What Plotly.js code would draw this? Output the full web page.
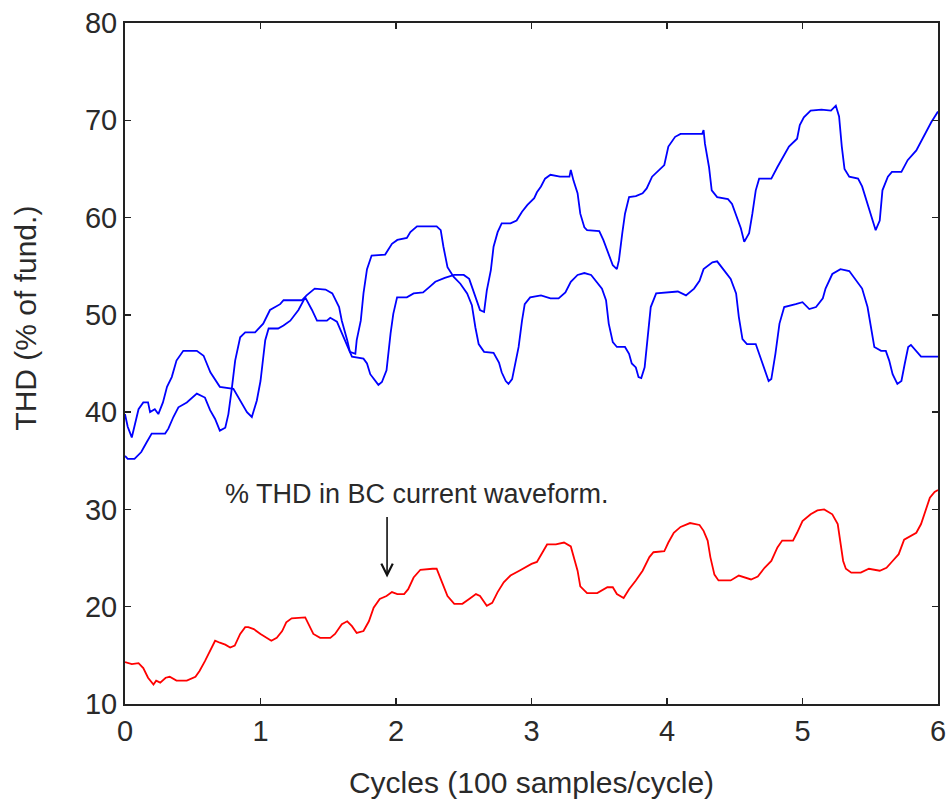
<!DOCTYPE html>
<html>
<head>
<meta charset="utf-8">
<script src="https://cdn.plot.ly/plotly-3.0.1.min.js"></script>
<style>html,body{margin:0;padding:0;background:#fff;}#chart{width:949px;height:806px;}</style>
</head>
<body>
<div id="chart"></div>
<script>
// Upper blue curve (ends near 71 %)
const curveA_x = [
  0, 0.02, 0.05, 0.08, 0.10, 0.135, 0.17, 0.185, 0.22, 0.246,
  0.28, 0.31, 0.345, 0.38, 0.43, 0.53, 0.58, 0.63, 0.70, 0.80,
  0.85, 0.90, 0.936, 0.973, 1.0, 1.035, 1.06, 1.13, 1.17, 1.22,
  1.28, 1.33, 1.38, 1.417, 1.49, 1.515, 1.564, 1.60, 1.64, 1.675,
  1.76, 1.786, 1.81, 1.85, 1.87, 1.896, 1.93, 1.96, 1.98, 2.008,
  2.08, 2.13, 2.20, 2.25, 2.29, 2.36, 2.43, 2.50, 2.54, 2.56,
  2.586, 2.62, 2.65, 2.67, 2.70, 2.72, 2.75, 2.78, 2.845, 2.89,
  2.93, 2.97, 3.02, 3.04, 3.07, 3.10, 3.14, 3.21, 3.28, 3.29,
  3.31, 3.34, 3.36, 3.39, 3.41, 3.50, 3.53, 3.56, 3.60, 3.63,
  3.645, 3.67, 3.69, 3.72, 3.77, 3.82, 3.85, 3.89, 3.93, 3.98,
  4.01, 4.06, 4.10, 4.26, 4.27, 4.28, 4.31, 4.33, 4.37, 4.45,
  4.48, 4.51, 4.545, 4.57, 4.606, 4.63, 4.655, 4.68, 4.77, 4.815,
  4.865, 4.90, 4.96, 4.98, 5.01, 5.06, 5.14, 5.21, 5.246, 5.27,
  5.29, 5.31, 5.345, 5.41, 5.44, 5.48, 5.52, 5.54, 5.57, 5.59,
  5.63, 5.66, 5.73, 5.776, 5.84, 5.90, 5.95, 6.0
];
const curveA_y = [
  39.8, 38.5, 37.4, 39.0, 40.3, 41.0, 41.0, 40.0, 40.3, 39.8,
  41.0, 42.6, 43.6, 45.3, 46.3, 46.3, 45.8, 44.1, 42.6, 42.4,
  41.2, 40.0, 39.5, 41.2, 43.2, 47.4, 48.6, 48.6, 48.9, 49.4,
  50.5, 51.8, 50.5, 49.4, 49.4, 49.7, 49.3, 48.1, 46.7, 45.7,
  45.5, 45.0, 43.9, 43.1, 42.8, 43.1, 44.3, 48.1, 50.1, 51.8,
  51.8, 52.2, 52.3, 52.9, 53.4, 53.8, 54.1, 54.1, 53.7, 52.9,
  51.8, 50.5, 50.3, 52.5, 54.6, 57.0, 58.5, 59.4, 59.4, 59.7,
  60.6, 61.3, 62.0, 62.6, 63.2, 64.0, 64.4, 64.2, 64.2, 64.9,
  63.8, 62.5, 60.4, 59.0, 58.7, 58.6, 57.7, 56.5, 55.1, 54.7,
  55.6, 58.4, 60.4, 62.1, 62.2, 62.5, 63.0, 64.2, 64.7, 65.4,
  67.3, 68.3, 68.6, 68.6, 69.0, 67.6, 65.2, 62.8, 62.1, 61.9,
  61.4, 60.2, 58.9, 57.5, 58.4, 60.4, 62.8, 64.0, 64.0, 65.2,
  66.4, 67.3, 68.1, 69.5, 70.3, 71.0, 71.1, 71.0, 71.5, 70.4,
  67.3, 65.0, 64.2, 64.0, 63.2, 61.4, 59.7, 58.7, 59.7, 62.8,
  64.2, 64.7, 64.7, 65.9, 66.9, 68.5, 69.8, 70.9
];

// Lower blue curve (ends near 46 %)
const curveB_x = [
  0, 0.02, 0.07, 0.12, 0.16, 0.197, 0.296, 0.32, 0.357, 0.394,
  0.456, 0.53, 0.59, 0.628, 0.665, 0.70, 0.74, 0.763, 0.788, 0.813,
  0.85, 0.887, 0.96, 1.02, 1.07, 1.145, 1.17, 1.305, 1.34, 1.40,
  1.48, 1.53, 1.58, 1.60, 1.64, 1.66, 1.70, 1.71, 1.74, 1.76,
  1.786, 1.82, 1.92, 1.97, 2.01, 2.08, 2.106, 2.155, 2.30, 2.33,
  2.35, 2.38, 2.426, 2.475, 2.525, 2.56, 2.586, 2.61, 2.65, 2.72,
  2.76, 2.78, 2.81, 2.83, 2.857, 2.88, 2.905, 2.93, 2.95, 2.99,
  3.07, 3.14, 3.20, 3.25, 3.29, 3.34, 3.39, 3.44, 3.49, 3.52,
  3.55, 3.57, 3.60, 3.63, 3.69, 3.72, 3.74, 3.77, 3.79, 3.81,
  3.835, 3.855, 3.88, 3.92, 4.00, 4.08, 4.14, 4.20, 4.24, 4.27,
  4.335, 4.37, 4.42, 4.47, 4.51, 4.53, 4.557, 4.59, 4.655, 4.68,
  4.705, 4.75, 4.77, 4.80, 4.83, 4.865, 4.95, 5.00, 5.05, 5.10,
  5.15, 5.17, 5.22, 5.28, 5.345, 5.39, 5.44, 5.48, 5.505, 5.53,
  5.58, 5.615, 5.64, 5.665, 5.70, 5.73, 5.755, 5.78, 5.80, 5.84,
  5.875, 5.91, 6.0
];
const curveB_y = [
  35.5, 35.2, 35.2, 35.9, 36.9, 37.8, 37.8, 38.3, 39.5, 40.5,
  41.0, 41.9, 41.5, 40.2, 39.3, 38.1, 38.4, 39.8, 42.4, 45.3,
  47.7, 48.2, 48.2, 49.1, 50.5, 51.1, 51.5, 51.5, 52.0, 52.7,
  52.6, 52.2, 50.8, 49.4, 47.4, 46.2, 46.0, 47.4, 49.4, 52.2,
  54.7, 56.1, 56.2, 57.3, 57.7, 57.9, 58.5, 59.1, 59.1, 58.7,
  57.0, 54.9, 53.9, 53.2, 52.2, 51.0, 48.7, 47.0, 46.2, 46.1,
  45.1, 44.1, 43.2, 42.9, 43.4, 45.0, 46.7, 49.4, 51.1, 51.8,
  52.0, 51.7, 51.7, 52.3, 53.4, 54.1, 54.3, 54.1, 53.2, 52.7,
  51.5, 49.1, 47.2, 46.7, 46.7, 46.0, 45.0, 44.6, 43.6, 43.5,
  44.6, 47.4, 50.8, 52.2, 52.3, 52.4, 52.0, 52.7, 53.5, 54.7,
  55.4, 55.5, 54.6, 53.7, 52.2, 49.8, 47.5, 47.0, 47.0, 46.0,
  45.0, 43.2, 43.4, 46.0, 49.1, 50.8, 51.1, 51.3, 50.6, 50.8,
  51.7, 52.7, 54.2, 54.7, 54.5, 53.7, 52.7, 50.8, 48.7, 46.7,
  46.3, 46.3, 45.3, 43.9, 42.9, 43.2, 45.0, 46.7, 46.9, 46.3,
  45.7, 45.7, 45.7
];

// Red curve: %THD in BC current waveform
const bc_x = [
  0, 0.05, 0.10, 0.135, 0.17, 0.21, 0.23, 0.26, 0.30, 0.33,
  0.38, 0.456, 0.52, 0.55, 0.59, 0.63, 0.665, 0.70, 0.74, 0.776,
  0.81, 0.85, 0.887, 0.91, 0.95, 1.0, 1.05, 1.08, 1.12, 1.16,
  1.19, 1.23, 1.33, 1.355, 1.39, 1.44, 1.515, 1.55, 1.60, 1.64,
  1.675, 1.71, 1.76, 1.80, 1.835, 1.88, 1.93, 1.97, 2.01, 2.06,
  2.09, 2.13, 2.18, 2.27, 2.30, 2.34, 2.38, 2.43, 2.49, 2.54,
  2.59, 2.62, 2.67, 2.71, 2.75, 2.795, 2.845, 2.91, 2.96, 3.0,
  3.04, 3.08, 3.115, 3.18, 3.24, 3.29, 3.31, 3.34, 3.36, 3.41,
  3.485, 3.56, 3.60, 3.63, 3.68, 3.72, 3.77, 3.82, 3.87, 3.90,
  3.98, 4.01, 4.05, 4.10, 4.17, 4.24, 4.27, 4.30, 4.32, 4.35,
  4.38, 4.47, 4.53, 4.62, 4.67, 4.72, 4.77, 4.815, 4.85, 4.93,
  4.96, 5.0, 5.06, 5.11, 5.16, 5.22, 5.26, 5.28, 5.30, 5.32,
  5.36, 5.43, 5.49, 5.57, 5.62, 5.665, 5.71, 5.75, 5.79, 5.84,
  5.875, 5.91, 5.94, 5.975, 6.0
];
const bc_y = [
  14.3, 14.1, 14.2, 13.7, 12.7, 12.0, 12.4, 12.2, 12.7, 12.8,
  12.4, 12.4, 12.8, 13.4, 14.4, 15.5, 16.5, 16.3, 16.1, 15.8,
  16.0, 17.2, 17.9, 17.9, 17.7, 17.2, 16.8, 16.5, 16.8, 17.5,
  18.4, 18.8, 18.9, 18.2, 17.2, 16.8, 16.8, 17.2, 18.2, 18.5,
  18.0, 17.3, 17.5, 18.5, 19.9, 20.8, 21.1, 21.5, 21.3, 21.3,
  21.8, 23.0, 23.8, 23.9, 23.9, 22.5, 21.1, 20.3, 20.3, 20.8,
  21.3, 21.1, 20.1, 20.4, 21.5, 22.5, 23.2, 23.7, 24.1, 24.4,
  24.6, 25.6, 26.4, 26.4, 26.6, 26.2, 25.1, 23.7, 22.1, 21.4,
  21.4, 22.0, 22.0, 21.3, 20.9, 21.8, 22.7, 23.7, 25.1, 25.6,
  25.7, 26.6, 27.6, 28.2, 28.6, 28.4, 27.8, 26.8, 25.1, 23.3,
  22.7, 22.7, 23.2, 22.8, 23.1, 24.0, 24.7, 26.1, 26.8, 26.8,
  27.6, 28.8, 29.5, 29.9, 30.0, 29.5, 28.5, 26.4, 24.7, 23.9,
  23.5, 23.5, 23.9, 23.7, 24.0, 24.7, 25.4, 26.9, 27.2, 27.6,
  28.5, 29.9, 31.2, 31.8, 32.0
];

const xTicks = [0, 1, 2, 3, 4, 5, 6];
const yTicks = [10, 20, 30, 40, 50, 60, 70, 80];

const labelText = "% THD in BC current waveform.";
const arrowHead = {x: 1.934, y: 23.0};
const labelPos = {x: 2.158, y: 31.6};

const FONT = "Liberation Sans, Arial, Helvetica, sans-serif";
const INK = "#2a2a2a";

const traces = [
  {x: curveA_x, y: curveA_y, type: "scatter", mode: "lines", line: {color: "#0000ff", width: 1.8}, hoverinfo: "x+y"},
  {x: curveB_x, y: curveB_y, type: "scatter", mode: "lines", line: {color: "#0000ff", width: 1.8}, hoverinfo: "x+y"},
  {x: bc_x, y: bc_y, type: "scatter", mode: "lines", line: {color: "#ff0000", width: 1.8}, hoverinfo: "x+y"}
];

const axisCommon = {
  showgrid: false, zeroline: false,
  showline: true, linecolor: "#222", linewidth: 2,
  mirror: "ticks", ticks: "inside", ticklen: 6, tickwidth: 1.5, tickcolor: "#222",
  tickfont: {family: FONT, size: 29, color: INK}
};

const layout = {
  width: 949, height: 806,
  margin: {l: 125, r: 11, t: 23, b: 102},
  paper_bgcolor: "#fff", plot_bgcolor: "#fff",
  showlegend: false,
  xaxis: Object.assign({}, axisCommon, {
    range: [0, 6], tickvals: xTicks, ticktext: xTicks.map(String),
    ticklabelstandoff: 0,
    title: {text: "Cycles (100 samples/cycle)", font: {family: FONT, size: 30, color: INK}, standoff: 26}
  }),
  yaxis: Object.assign({}, axisCommon, {
    range: [10, 80], tickvals: yTicks, ticktext: yTicks.map(String),
    ticklabelstandoff: 0
  }),
  annotations: [
    {xref: "paper", yref: "paper", x: -0.122, y: 0.567, text: "THD (% of fund.)", textangle: -90,
     showarrow: false, font: {family: FONT, size: 30, color: INK}, xanchor: "center", yanchor: "middle"},
    {x: labelPos.x, y: labelPos.y, text: labelText, showarrow: false,
     font: {family: FONT, size: 27, color: INK}, xanchor: "center", yanchor: "middle"},
    {x: arrowHead.x, y: arrowHead.y, text: "", showarrow: true, ax: 0, ay: -62,
     arrowhead: 5, arrowsize: 1.4, arrowwidth: 1.6, arrowcolor: "#111"}
  ]
};

Plotly.newPlot("chart", traces, layout, {displayModeBar: false, staticPlot: true});
</script>
</body>
</html>
